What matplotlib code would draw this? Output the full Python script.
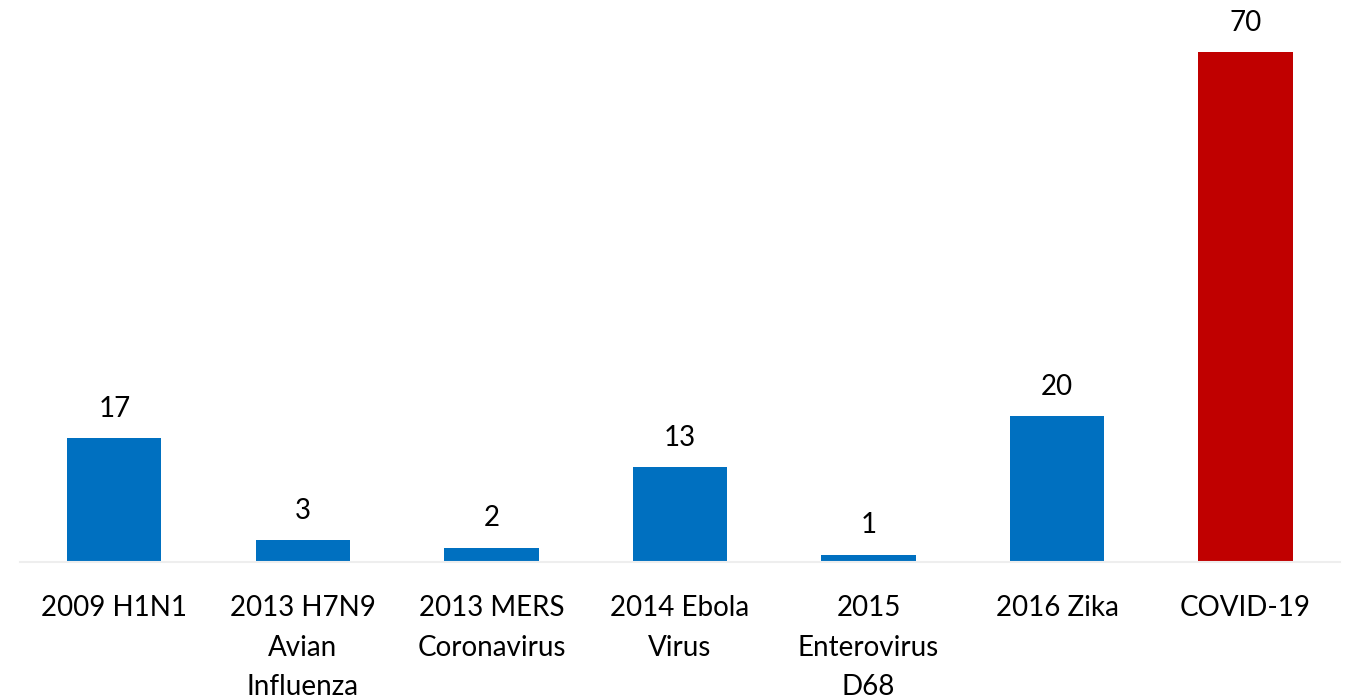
import matplotlib
matplotlib.use('Agg')
import matplotlib.pyplot as plt

categories = ['2009 H1N1', '2013 H7N9\nAvian\nInfluenza', '2013 MERS\nCoronavirus',
              '2014 Ebola\nVirus', '2015\nEnterovirus\nD68', '2016 Zika', 'COVID-19']
values = [17, 3, 2, 13, 1, 20, 70]
colors = ['#0070c0'] * 6 + ['#c00000']

plt.rcParams['font.family'] = ['Lato', 'DejaVu Sans']

fig = plt.figure(figsize=(13.55, 7.0), dpi=100)
ax = fig.add_axes([0.0148, 0.197, 0.974, 0.774])

x = range(len(categories))
bars = ax.bar(x, values, width=0.5, color=colors, zorder=2)

for xi, v in zip(x, values):
    ax.annotate(str(v), (xi, v), xytext=(0, 12), textcoords='offset points',
                ha='center', va='bottom', fontsize=20, color='#000000')

ax.set_xlim(-0.5, len(categories) - 0.5)
ax.set_ylim(0, 70 * 542 / 510)
ax.set_xticks(list(x))
ax.set_xticklabels(categories, fontsize=20, linespacing=1.63)
ax.tick_params(axis='x', length=0, pad=24)
ax.set_yticks([])

for s in ['top', 'right', 'left']:
    ax.spines[s].set_visible(False)
ax.spines['bottom'].set_color('#eeeeee')
ax.spines['bottom'].set_linewidth(1.5)

fig.savefig('out.png', dpi=100)
